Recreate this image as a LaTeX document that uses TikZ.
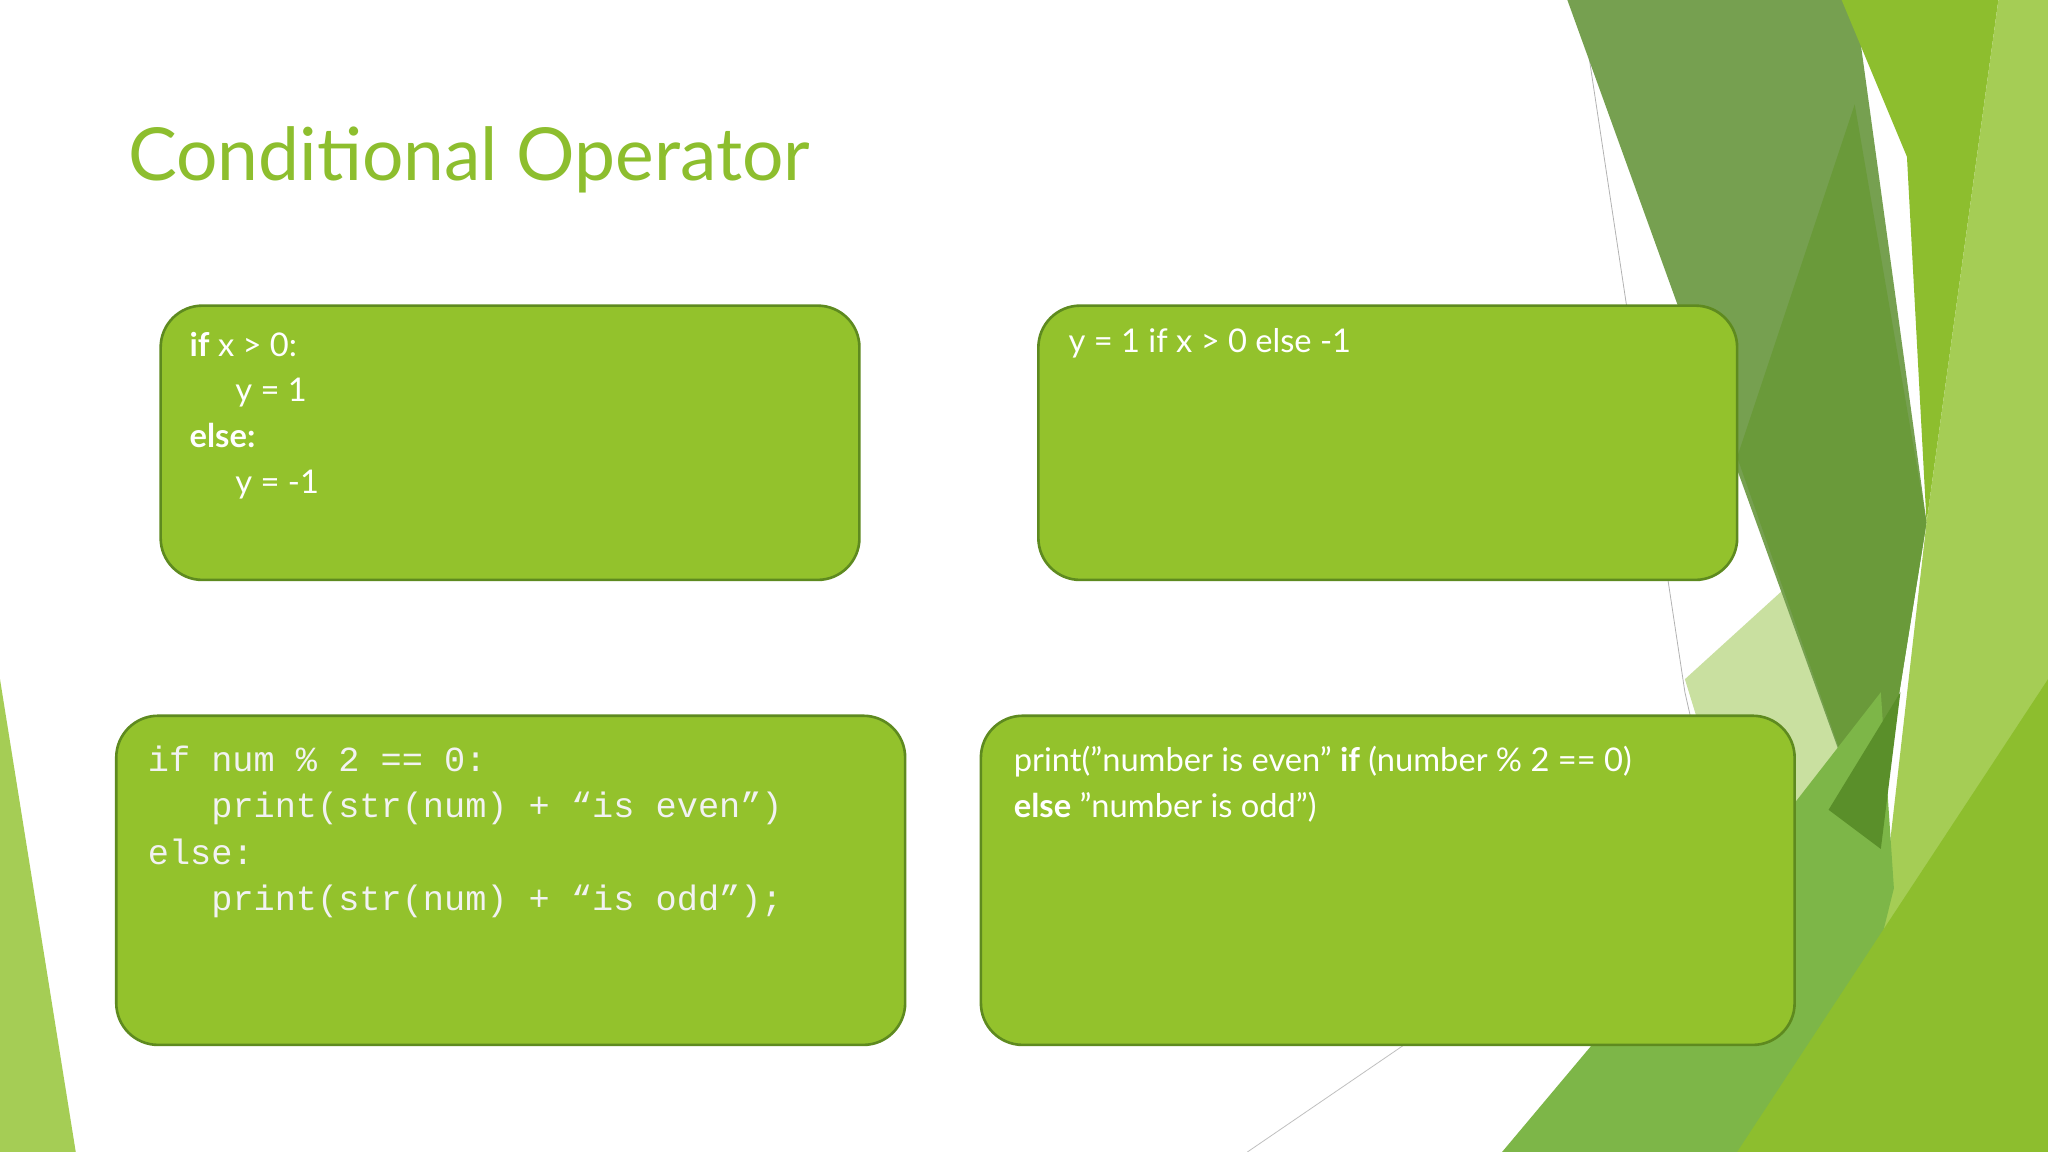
\documentclass[tikz,border=0pt]{standalone}
\usepackage{fontspec}
\setmainfont{Lato}
\setmonofont{Liberation Mono}
\definecolor{boxg}{HTML}{93C22C}
\definecolor{boxb}{HTML}{5E8A1F}
\definecolor{titleg}{HTML}{8DBE2E}
\definecolor{gA}{HTML}{76A050}
\definecolor{gB}{HTML}{8DBE2E}
\definecolor{gC}{HTML}{A5CD55}
\definecolor{gD}{HTML}{6A9A3A}
\definecolor{gE}{HTML}{C9E0A0}
\definecolor{gF}{HTML}{5A8F2A}
\definecolor{gG}{HTML}{7DB648}
\tikzset{
  card/.style={draw=boxb, line width=2pt, fill=boxg, rounded corners=32pt},
  txt/.style={anchor=north west, align=left, text=white, font=\fontsize{25}{35}\selectfont, inner sep=0pt},
  code/.style={anchor=north west, align=left, text=white!90!gray, font=\ttfamily\fontsize{27}{35.5}\selectfont, inner sep=0pt}
}
\begin{document}
\begin{tikzpicture}[x=1pt,y=-1pt]
\useasboundingbox (0,0) rectangle (1568,882);
\fill[white] (0,0) rectangle (1568,882);
% background shapes
\draw[gray!60, line width=0.6pt] (1210,0) -- (1290,530) -- (1360,840);
\draw[gray!50, line width=0.6pt] (955,882) -- (1075,800);
\fill[gE] (1290,520) -- (1400,420) -- (1440,600) -- (1330,650) -- cycle;
\fill[gA] (1200,0) -- (1420,0) -- (1475,400) -- (1435,650) -- cycle;
\fill[gD] (1330,350) -- (1420,80) -- (1475,400) -- (1435,650) -- cycle;
\fill[gB] (1410,0) -- (1530,0) -- (1475,400) -- (1460,120) -- cycle;
\fill[gC] (1530,0) -- (1568,0) -- (1568,882) -- (1420,882) -- (1475,400) -- cycle;
\fill[gG] (1150,882) -- (1370,620) -- (1440,530) -- (1450,680) -- (1400,882) -- cycle;
\fill[gF] (1400,620) -- (1455,530) -- (1440,650) -- cycle;
\fill[gB] (1330,882) -- (1568,520) -- (1568,882) -- cycle;
\fill[gC] (0,520) -- (58,882) -- (0,882) -- cycle;
% title
\node[anchor=west, text=titleg, font=\fontsize{56}{60}\selectfont, inner sep=0pt] (title) at (98,122) {Conditional Operator};
% boxes
\draw[card] (123,234) rectangle (658,444);
\draw[card] (795,234) rectangle (1330,444);
\draw[card] (89,548) rectangle (693,800);
\draw[card] (751,548) rectangle (1374,800);
\node[txt] (t1) at (145,254) {\textbf{if} x > 0:\\\hspace*{35pt}y = 1\\\textbf{else:}\\\hspace*{35pt}y = -1};
\node[txt] (t2) at (818,251) {y = 1 if x > 0 else -1};
\node[code] (t3) at (113,571) {if num \% 2 == 0:\\\ \ \ print(str(num) + “is even”)\\else:\\\ \ \ print(str(num) + “is odd”);};
\node[txt] (t4) at (776,571) {print("number is even" \textbf{if} (number \% 2 == 0)\\\textbf{else} "number is odd")};
\end{tikzpicture}
\end{document}
